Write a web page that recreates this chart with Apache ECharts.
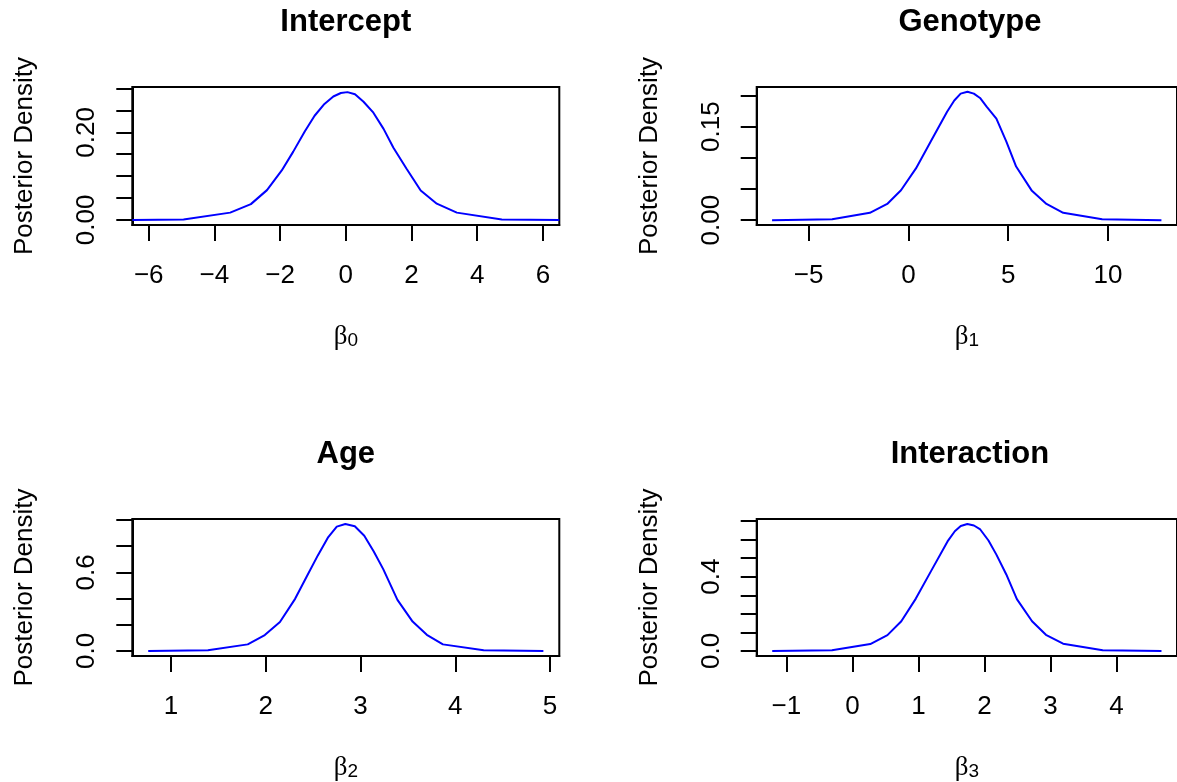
<!DOCTYPE html>
<html>
<head>
<meta charset="utf-8">
<title>Posterior densities</title>
<script src="https://cdn.jsdelivr.net/npm/echarts@6/dist/echarts.min.js"></script>
<style>
  html, body { margin: 0; padding: 0; background: #fff; }
  #myCharts { width: 1177px; height: 782px; }
</style>
</head>
<body>
<div id="myCharts"></div>
<script>
// panel titles and axis names
const titles = ['Intercept', 'Genotype', 'Age', 'Interaction'];
const subs = ['0', '1', '2', '3'];

// Intercept
const p1X = [-6.5, -4.94, -3.52, -2.89, -2.40, -1.95, -1.6, -1.25, -0.95, -0.65, -0.38, -0.15, 0.05, 0.28, 0.54, 0.84, 1.15, 1.45, 1.85, 2.28, 2.77, 3.38, 4.75, 6.5];
const p1Y = [0, 0.001, 0.0166, 0.036, 0.068, 0.113, 0.156, 0.202, 0.238, 0.265, 0.282, 0.290, 0.292, 0.287, 0.270, 0.245, 0.208, 0.165, 0.117, 0.067, 0.037, 0.0166, 0.001, 0];
const p1XTicks = ['−6', '−4', '−2', '0', '2', '4', '6'];
const p1YTicks = [0, 0.05, 0.10, 0.15, 0.20, 0.25, 0.30];
const p1YLabels = ['0.00', '0.20'];

// Genotype
const p2X = [-6.83, -3.82, -1.93, -1.06, -0.37, 0.38, 1.12, 1.94, 2.30, 2.62, 2.96, 3.28, 3.59, 3.92, 4.41, 4.91, 5.40, 6.19, 6.92, 7.76, 9.71, 12.68];
const p2Y = [0, 0.0016, 0.0117, 0.026, 0.048, 0.083, 0.126, 0.174, 0.192, 0.203, 0.206, 0.203, 0.196, 0.182, 0.163, 0.126, 0.086, 0.047, 0.026, 0.0117, 0.0016, 0];
const p2XTicks = ['−5', '0', '5', '10'];
const p2YTicks = [0, 0.05, 0.10, 0.15, 0.20];
const p2YLabels = ['0.00', '0.15'];

// Age
const p3X = [0.76, 1.39, 1.81, 1.99, 2.15, 2.31, 2.43, 2.55, 2.66, 2.75, 2.84, 2.94, 3.04, 3.14, 3.24, 3.39, 3.55, 3.70, 3.87, 4.30, 4.93];
const p3Y = [0, 0.005, 0.05, 0.121, 0.221, 0.398, 0.565, 0.73, 0.87, 0.95, 0.970, 0.952, 0.88, 0.76, 0.625, 0.39, 0.224, 0.123, 0.05, 0.005, 0];
const p3XTicks = ['1', '2', '3', '4', '5'];
const p3YTicks = [0, 0.2, 0.4, 0.6, 0.8, 1.0];
const p3YLabels = ['0.0', '0.6'];

// Interaction
const p4X = [-1.215, -0.31, 0.27, 0.53, 0.74, 0.96, 1.19, 1.44, 1.55, 1.64, 1.74, 1.84, 1.93, 2.06, 2.18, 2.33, 2.49, 2.72, 2.93, 3.19, 3.79, 4.68];
const p4Y = [0, 0.003, 0.037, 0.085, 0.16, 0.282, 0.43, 0.59, 0.645, 0.673, 0.684, 0.676, 0.657, 0.595, 0.519, 0.412, 0.279, 0.16, 0.087, 0.039, 0.003, 0];
const p4XTicks = ['−1', '0', '1', '2', '3', '4'];
const p4YTicks = [0, 0.1, 0.2, 0.3, 0.4, 0.5, 0.6, 0.7];
const p4YLabels = ['0.0', '0.4'];

const toNum = s => parseFloat(s.replace('−', '-'));

// plot regions (R's usr extents + box placement in pixels)
const panels = [
  { xs: p1X, ys: p1Y, xt: p1XTicks, yt: p1YTicks, yl: p1YLabels, box: [132.3, 87, 427, 138], xr: [-6.5, 6.5], yr: [-0.0117, 0.3037] },
  { xs: p2X, ys: p2Y, xt: p2XTicks, yt: p2YTicks, yl: p2YLabels, box: [756.7, 87, 426.4, 138], xr: [-7.6, 13.46], yr: [-0.0078, 0.2136] },
  { xs: p3X, ys: p3Y, xt: p3XTicks, yt: p3YTicks, yl: p3YLabels, box: [132.3, 519, 427, 138.3], xr: [0.592, 5.098], yr: [-0.0388, 1.008] },
  { xs: p4X, ys: p4Y, xt: p4XTicks, yt: p4YTicks, yl: p4YLabels, box: [756.7, 519, 426.4, 138.3], xr: [-1.45, 4.915], yr: [-0.0274, 0.711] }
];

const sans = 'Liberation Sans, Arial, sans-serif';
const serif = 'Liberation Serif, Times New Roman, serif';
const black = '#000';

const grid = [], xAxis = [], yAxis = [], series = [], title = [];

panels.forEach((p, i) => {
  const [l, t, w, h] = p.box;
  grid.push({ left: l, top: t, width: w, height: h, show: true, borderColor: black, borderWidth: 2, containLabel: false });

  title.push({
    text: titles[i],
    left: l + w / 2,
    top: t - 80,
    textAlign: 'center',
    padding: 0,
    textStyle: { fontFamily: sans, fontSize: 31, fontWeight: 'bold', color: black }
  });

  const xVals = p.xt.map(toNum);
  xAxis.push({
    type: 'value',
    gridIndex: i,
    min: p.xr[0],
    max: p.xr[1],
    splitLine: { show: false },
    axisLine: { show: true, onZero: false, lineStyle: { color: black, width: 2 } },
    axisTick: { show: true, length: 16, lineStyle: { color: black, width: 2 }, customValues: xVals },
    axisLabel: {
      customValues: xVals,
      margin: 38,
      color: black,
      fontFamily: sans,
      fontSize: 26,
      formatter: v => p.xt[xVals.findIndex(x => Math.abs(x - v) < 1e-9)] || ''
    },
    name: '{b|β}{s|' + subs[i] + '}',
    nameLocation: 'middle',
    nameGap: 98,
    nameTextStyle: {
      rich: {
        b: { fontFamily: serif, fontSize: 27, color: black },
        s: { fontFamily: sans, fontSize: 19, color: black, verticalAlign: 'bottom' }
      }
    }
  });

  const yLabVals = p.yl.map(toNum);
  yAxis.push({
    type: 'value',
    gridIndex: i,
    min: p.yr[0],
    max: p.yr[1],
    splitLine: { show: false },
    axisLine: { show: true, onZero: false, lineStyle: { color: black, width: 2 } },
    axisTick: { show: true, length: 16, lineStyle: { color: black, width: 2 }, customValues: p.yt },
    axisLabel: {
      customValues: yLabVals,
      rotate: 90,
      margin: 32,
      color: black,
      fontFamily: sans,
      fontSize: 26,
      formatter: v => p.yl[yLabVals.findIndex(y => Math.abs(y - v) < 1e-9)] || ''
    },
    name: 'Posterior Density',
    nameLocation: 'middle',
    nameRotate: 90,
    nameGap: 94,
    nameTextStyle: { fontFamily: sans, fontSize: 26, color: black }
  });

  series.push({
    type: 'line',
    xAxisIndex: i,
    yAxisIndex: i,
    showSymbol: false,
    smooth: false,
    silent: true,
    animation: false,
    lineStyle: { color: '#0000FF', width: 2 },
    data: p.xs.map((x, k) => [x, p.ys[k]])
  });
});

const chart = echarts.init(document.getElementById('myCharts'));
chart.setOption({
  animation: false,
  backgroundColor: '#fff',
  title: title,
  grid: grid,
  xAxis: xAxis,
  yAxis: yAxis,
  series: series
});
</script>
</body>
</html>
